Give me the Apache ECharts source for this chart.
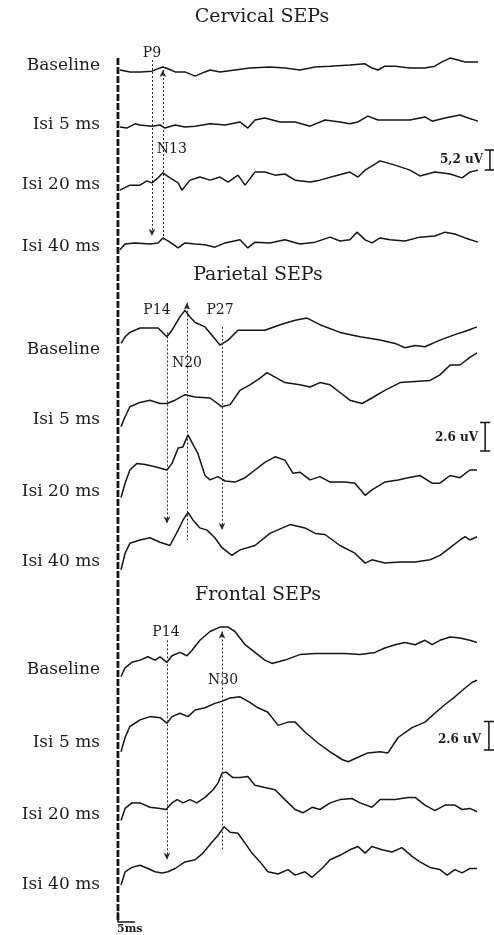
<!DOCTYPE html>
<html><head><meta charset="utf-8">
<script src="https://cdn.jsdelivr.net/npm/echarts@6/dist/echarts.min.js"></script>
<style>html,body{margin:0;padding:0;background:#fff}#c{width:494px;height:935px}</style>
</head><body><div id="c"></div>
<script>
// ---------------- DATA ----------------
const rowLabels = ['Baseline', 'Isi 5 ms', 'Isi 20 ms', 'Isi 40 ms'];
const sectionTitles = ['Cervical SEPs', 'Parietal SEPs', 'Frontal SEPs'];

// traces: [latency ms, amplitude uV (upward deflection)]
const cervBaseline = [[0,0],[3,-0.5],[6,-0.5],[9.4,-0.3],[11,0.3],[12.6,0.8],[14.5,0.2],[16.2,-0.5],[19.1,-0.5],[22.1,-1.6],[25,-0.5],[26.5,0],[29.4,-0.5],[33.8,0],[38.2,0.5],[44.1,0.8],[48.5,0.5],[52.9,0],[57.4,0.8],[61.8,1.0],[67.6,1.3],[72.1,1.6],[74.1,0.5],[75.9,0],[77.9,1.0],[80.9,1.0],[85.3,0.5],[89.7,0.5],[92.6,1.0],[94.7,2.1],[97.1,3.1],[99.4,2.6],[101.5,2.1],[105.3,2.1]];
const cervIsi5 = [[0,-0.5],[2,-0.8],[4.4,0.3],[5.9,0],[9.4,-0.3],[11.8,0],[13.2,-0.8],[16.2,0],[19.1,-0.5],[22.1,-0.3],[26.5,0.3],[30.9,0],[35.3,0.8],[37.6,-0.8],[39.7,1.3],[42.6,1.8],[47.1,0.8],[51.5,0.8],[55.9,-0.3],[60.3,1.3],[64.7,0.8],[67.6,0.3],[70,0.8],[72.9,2.3],[75.9,1.3],[80.9,1.3],[85.3,1.3],[89.7,2.1],[91.8,1.0],[95.6,1.8],[100,2.6],[102.4,1.8],[105.3,1.0]];
const cervIsi20 = [[0,-1.6],[2.9,-0.3],[5.9,-0.3],[7.9,0.8],[9.4,0.3],[11.2,1.6],[12.6,2.9],[14.7,1.6],[17.1,0.3],[18.2,-1.6],[20.6,1.0],[23.5,1.8],[26.5,1.0],[29.4,1.8],[31.8,0.5],[34.7,2.3],[36.8,-0.3],[39.7,3.1],[42.6,3.1],[45.6,2.3],[48.5,2.6],[51.5,1.0],[55.9,0.5],[58.8,1.0],[63.2,2.1],[67.6,3.1],[70,1.8],[72.1,3.6],[76.5,6.0],[80.9,4.9],[85.3,3.6],[88.2,2.1],[92.6,3.1],[97.1,2.6],[100.6,1.6],[102.9,3.1],[105.3,3.6]];
const cervIsi40 = [[0,-1.0],[1.5,0.5],[4.4,0.8],[8.8,0.5],[11.2,0.8],[12.6,2.1],[14.7,1.0],[17.1,-0.5],[19.1,0.8],[22.1,0.5],[25,0.3],[27.9,-0.3],[30.9,0.8],[35.3,1.6],[37.6,-0.5],[39.7,1.0],[44.1,0.8],[48.5,1.6],[52.9,0.5],[57.4,1.0],[61.8,2.3],[64.7,1.3],[67.6,1.6],[69.7,3.6],[72.1,1.6],[74.1,0.8],[76.5,2.1],[79.4,1.6],[83.8,1.3],[88.2,2.3],[92.6,2.6],[95.6,3.6],[98.5,3.1],[101.5,2.1],[105.3,1.0]];

const parBaseline = [[0.3,0.6],[1.5,1.2],[2.9,1.6],[5.9,2.0],[8.8,2.0],[11.2,2.0],[13.8,1.2],[15.3,1.8],[17.6,3.0],[19.1,3.6],[20.6,3.0],[22.1,2.5],[25,2.1],[27.4,1.2],[29.4,0.45],[31.8,0.9],[34.7,1.8],[38.2,1.8],[42.6,1.8],[47.1,2.3],[51.5,2.7],[55,2.9],[58.8,2.3],[64.7,1.6],[70.6,1.2],[76.5,0.9],[80.9,0.6],[83.8,0.2],[86.8,0.4],[89.7,0.3],[94.1,0.9],[98.5,1.4],[102.4,1.8],[105,2.1]];
const parIsi5 = [[0.3,-0.6],[1.5,0.3],[2.9,1.2],[5.9,1.6],[8.8,1.8],[11.8,1.5],[13.8,1.5],[16.2,1.8],[19.1,2.3],[22.1,2.1],[26.5,2.0],[30,1.2],[32.4,1.4],[35.3,2.7],[38.2,3.2],[41.2,3.8],[43.2,4.3],[45.6,3.9],[48.5,3.4],[52.9,3.2],[55.9,3.0],[58.8,3.4],[61.8,3.2],[64.7,2.5],[67.6,1.8],[71.2,1.5],[74.1,2.0],[77.9,2.7],[82.4,3.4],[86.8,3.5],[91.2,3.6],[94.1,4.1],[97.1,5.0],[100,5.0],[102.9,5.7],[105,6.1]];
const parIsi20 = [[0.3,-0.5],[1.5,0.8],[2.9,2.0],[5,2.6],[7.4,2.5],[10.3,2.3],[13.8,2.0],[15.3,2.6],[17.1,4.0],[18.5,4.1],[20,5.2],[21.5,4.3],[22.9,3.5],[25,1.5],[26.5,1.1],[28.8,1.4],[30.9,1.0],[33.8,0.9],[36.8,1.3],[39.7,2.0],[42.6,2.7],[45.6,3.2],[48.5,2.9],[50.9,1.7],[52.9,1.8],[55.9,1.1],[58.8,1.4],[61.8,0.9],[66.2,0.9],[69.1,0.8],[72.1,-0.3],[74.1,0.2],[77.9,0.9],[81.8,1.1],[84.7,1.3],[88.2,1.5],[91.8,0.8],[94.1,0.8],[97.1,1.5],[100,1.3],[102.9,2.0],[105,2.0]];
const parIsi40 = [[0.3,-0.7],[1.5,0.8],[2.9,1.7],[5.9,2.0],[8.8,2.2],[11.8,1.8],[14.7,1.5],[17.1,2.9],[18.5,3.8],[20,4.5],[21.5,3.8],[23.5,3.1],[25.6,2.9],[27.9,2.2],[30,1.3],[32.9,0.6],[35.3,1.1],[39.7,1.5],[44.1,2.6],[50,3.4],[54.4,3.1],[57.4,2.6],[60.3,2.5],[64.7,1.5],[69.1,0.8],[72.1,-0.1],[74.1,0.2],[77.9,-0.1],[82.4,0],[86.8,0],[91.2,0.2],[94.1,0.6],[97.1,1.3],[100,2.0],[101.5,2.3],[102.9,2.0],[105,2.3]];

const frBaseline = [[0.3,-0.6],[1.5,0.2],[3.5,0.7],[5.9,0.9],[8.2,1.2],[10.3,0.9],[11.8,1.2],[13.8,0.7],[15.3,1.3],[17.6,1.6],[19.7,1.3],[21.2,1.8],[23.5,2.7],[26.5,3.5],[29.4,3.9],[31.8,3.9],[33.8,3.5],[36.8,2.3],[39.7,1.6],[42.6,0.9],[44.7,0.6],[48.5,0.9],[52.9,1.4],[57.4,1.5],[61.8,1.5],[66.2,1.5],[70.6,1.4],[75,1.6],[77.9,2.0],[80.9,2.3],[83.8,2.5],[86.8,2.3],[89.7,2.7],[91.8,2.3],[94.1,2.7],[97.1,3.0],[100,2.9],[102.9,2.7],[105,2.5]];
const frIsi5 = [[0.3,-0.8],[1.5,0.5],[2.9,1.5],[5.9,2.1],[8.8,2.4],[11.8,2.3],[13.8,1.8],[15.3,2.4],[17.6,2.7],[20,2.4],[22.1,3.0],[25,3.2],[27.9,3.6],[30,3.8],[32.4,4.1],[35.3,4.2],[38.2,3.7],[40.6,3.2],[43.5,2.8],[46.5,1.6],[49.4,1.9],[51.5,1.9],[54.4,1.0],[58.2,0],[61.8,-0.8],[65.3,-1.5],[67.1,-1.7],[70,-1.3],[72.9,-0.9],[76.5,-0.8],[78.8,-0.9],[81.8,0.5],[85.9,1.4],[89.7,1.9],[92.6,2.7],[95.6,3.5],[98.5,4.2],[101.5,5.0],[103.5,5.5],[105,5.7]];
const frIsi20 = [[0.3,-0.5],[1.5,0.6],[3.5,1.1],[5.9,1.1],[8.8,0.7],[11.8,0.6],[13.5,0.5],[15.3,1.1],[16.8,1.4],[18.5,1.1],[20.6,1.4],[22.6,1.1],[25,1.6],[27.4,2.3],[28.8,2.9],[30,3.8],[31.2,3.9],[33.2,3.4],[35.3,3.4],[37.6,3.5],[39.7,2.7],[42.6,2.5],[45.6,2.3],[48.5,1.4],[51.5,0.5],[53.8,0.2],[56.5,0.7],[58.8,0.5],[61.8,1.1],[64.7,1.4],[68.2,1.5],[70.6,1.1],[74.1,0.7],[76.5,1.4],[80.9,1.4],[84.7,1.6],[86.8,1.6],[89.7,0.9],[92.6,0.4],[95.6,0.9],[98.5,0.9],[100.6,0.5],[102.9,0.6],[105,0.3]];
const frIsi40 = [[0.3,0],[1.5,1.2],[3.5,1.6],[5.9,1.8],[8.2,1.5],[10.3,1.2],[12.4,1.1],[14.1,1.2],[16.2,1.5],[19.1,2.1],[22.1,2.3],[24.4,2.9],[27.1,3.9],[28.8,4.5],[30.6,5.3],[32.4,4.8],[34.7,4.7],[36.8,3.8],[38.8,2.9],[41.2,2.1],[43.5,1.2],[46.5,1.0],[49.4,1.4],[51.5,0.9],[54.4,1.2],[56.5,0.7],[59.4,1.5],[61.8,2.3],[64.7,2.7],[67.6,3.2],[70,3.5],[72.1,2.9],[74.1,3.5],[77.1,3.2],[80,3.0],[82.9,3.4],[85.9,2.6],[88.2,2.1],[91.2,1.6],[94.1,1.4],[96.2,0.9],[98.5,1.4],[100.6,1.1],[102.9,1.5],[105,1.5]];

// peak components: name, latency (ms)
const cervPeaks = ['P9', 'N13'];
const cervLatency = [9.4, 12.6];
const parPeaks = ['P14', 'N20', 'P27'];
const parLatency = [13.8, 19.7, 30];
const frPeaks = ['P14', 'N30'];
const frLatency = [13.8, 30];

// calibration
const scaleBarUv = [5.2, 2.6, 2.6];
const scaleBarText = ['5,2 uV', '2.6 uV', '2.6 uV'];
const timeBarMs = 5;
const timeBarText = '5ms';

// ---------------- LAYOUT ----------------
const X = { left: 113.2, width: 380.8, min: -2, max: 110 };
const FONT = 'DejaVu Serif';
const INK = '#151515';
const TXT = '#1c1c1c';
const sections = [
  { top: 40, height: 222, pxPerUv: 3.85, rowY: [70, 125, 184, 246], labelY: [66, 125, 185, 247], titleX: 262, titleY: 17,
    traces: [cervBaseline, cervIsi5, cervIsi20, cervIsi40], peaks: cervPeaks, lat: cervLatency,
    // marker span: [topRow, topUv, bottomRow, bottomUv, arrowUp]
    spans: [[0, 2.6, 3, 2.6, false], [0, 0, 3, 1.6, true]],
    peakLabelY: [53, 149], peakLabelDx: [0, 9],
    bar: { t: 108.8, bottomY: 170, textRight: 483, textY: 160 } },
  { top: 262, height: 328, pxPerUv: 11, rowY: [350, 420, 492, 562], labelY: [350, 420, 492, 562], titleX: 258, titleY: 275,
    traces: [parBaseline, parIsi5, parIsi20, parIsi40], peaks: parPeaks, lat: parLatency,
    spans: [[0, 1.6, 3, 3.5, false], [0, 4.3, 3, 2.0, true], [0, 2.1, 3, 2.9, false]],
    peakLabelY: [310, 363, 310], peakLabelDx: [-10, 0, -2],
    bar: { t: 107.4, bottomY: 451, textRight: 478, textY: 438 } },
  { top: 590, height: 332, pxPerUv: 11, rowY: [670, 743, 815, 885], labelY: [670, 743, 815, 885], titleX: 258, titleY: 595,
    traces: [frBaseline, frIsi5, frIsi20, frIsi40], peaks: frPeaks, lat: frLatency,
    spans: [[0, 2.7, 3, 2.3, false], [0, 3.5, 3, 3.2, true]],
    peakLabelY: [632, 680], peakLabelDx: [-1, 1],
    bar: { t: 108.5, bottomY: 750, textRight: 481, textY: 740 } }
];

function pxToVal(sec, py) { return -(py - sec.top) / sec.pxPerUv; }

const grids = [], xAxes = [], yAxes = [], series = [], graphics = [];
sections.forEach((sec, s) => {
  grids.push({ left: X.left, width: X.width, top: sec.top, height: sec.height });
  xAxes.push({ gridIndex: s, type: 'value', min: X.min, max: X.max, show: false });
  yAxes.push({ gridIndex: s, type: 'value', min: -sec.height / sec.pxPerUv, max: 0, show: false });
  const off = sec.rowY.map(y => pxToVal(sec, y));
  sec.traces.forEach((tr, r) => {
    series.push({ type: 'line', xAxisIndex: s, yAxisIndex: s, showSymbol: false, symbol: 'none', silent: true,
      animation: false, clip: false,
      lineStyle: { color: INK, width: 1.5 },
      data: tr.map(([t, v]) => [t, v + off[r]]) });
  });
  // latency marker lines
  series.push({ type: 'line', xAxisIndex: s, yAxisIndex: s, data: [], silent: true, animation: false,
    markLine: { silent: true, animation: false, symbolSize: [5, 7], label: { show: false },
      lineStyle: { color: '#2a2a2a', width: 1, type: [2, 2] },
      data: sec.spans.map((sp, i) => [
        { coord: [sec.lat[i], off[sp[0]] + sp[1]], symbol: sp[4] ? 'arrow' : 'none' },
        { coord: [sec.lat[i], off[sp[2]] + sp[3]], symbol: sp[4] ? 'none' : 'arrow' }
      ]) } });
  // peak labels
  series.push({ type: 'scatter', xAxisIndex: s, yAxisIndex: s, symbolSize: 0, silent: true, animation: false,
    itemStyle: { color: TXT, opacity: 1 },
    data: sec.peaks.map((p, i) => ({ value: [sec.lat[i], pxToVal(sec, sec.peakLabelY[i])], name: p,
      label: { show: true, position: 'inside', offset: [sec.peakLabelDx[i], 0], formatter: p, opacity: 1,
        fontFamily: FONT, fontSize: 14, color: TXT, textBorderWidth: 0, textBorderColor: 'transparent' } })) });
  // amplitude calibration bar
  const b = sec.bar, b0 = pxToVal(sec, b.bottomY), b1 = b0 + scaleBarUv[s];
  series.push({ type: 'line', xAxisIndex: s, yAxisIndex: s, symbol: 'none', silent: true, animation: false, clip: false,
    connectNulls: false, lineStyle: { color: INK, width: 1.5 },
    data: [[b.t - 1.5, b1], [b.t + 1.5, b1], '-', [b.t, b1], [b.t, b0], '-', [b.t - 1.5, b0], [b.t + 1.5, b0]] });
  graphics.push({ type: 'text', x: b.textRight, y: b.textY, style: { text: scaleBarText[s], font: 'bold 12px "' + FONT + '"',
    fill: TXT, textAlign: 'right', textVerticalAlign: 'middle' } });
  // titles & row labels
  graphics.push({ type: 'text', x: sec.titleX, y: sec.titleY, style: { text: sectionTitles[s], font: '19px "' + FONT + '"',
    fill: TXT, textAlign: 'center', textVerticalAlign: 'middle' } });
  rowLabels.forEach((lab, r) => {
    graphics.push({ type: 'text', x: 100, y: sec.labelY[r], style: { text: lab, font: '17px "' + FONT + '"',
      fill: TXT, textAlign: 'right', textVerticalAlign: 'middle' } });
  });
});

// overlay grid: stimulus onset line and time calibration
grids.push({ left: X.left, width: X.width, top: 58, height: 864 });
xAxes.push({ gridIndex: 3, type: 'value', min: X.min, max: X.max, show: false });
yAxes.push({ gridIndex: 3, type: 'value', min: 0, max: 1, show: false });
const onsetMs = -0.6;
series.push({ type: 'line', xAxisIndex: 3, yAxisIndex: 3, symbol: 'none', silent: true, animation: false, clip: false,
  lineStyle: { color: INK, width: 2.8, type: [7, 2] }, data: [[onsetMs, 1], [onsetMs, 0]] });
series.push({ type: 'line', xAxisIndex: 3, yAxisIndex: 3, symbol: 'none', silent: true, animation: false, clip: false,
  lineStyle: { color: INK, width: 1.6 }, data: [[onsetMs, 0.012], [onsetMs, 0], [onsetMs + timeBarMs, 0]] });
graphics.push({ type: 'text', x: 117, y: 929, style: { text: timeBarText, font: 'bold 11px "' + FONT + '"',
  fill: TXT, textAlign: 'left', textVerticalAlign: 'middle' } });

const chart = echarts.init(document.getElementById('c'), null, { renderer: 'canvas' });
chart.setOption({ backgroundColor: '#fff', animation: false, grid: grids, xAxis: xAxes, yAxis: yAxes,
  series: series, graphic: graphics });
</script></body></html>
